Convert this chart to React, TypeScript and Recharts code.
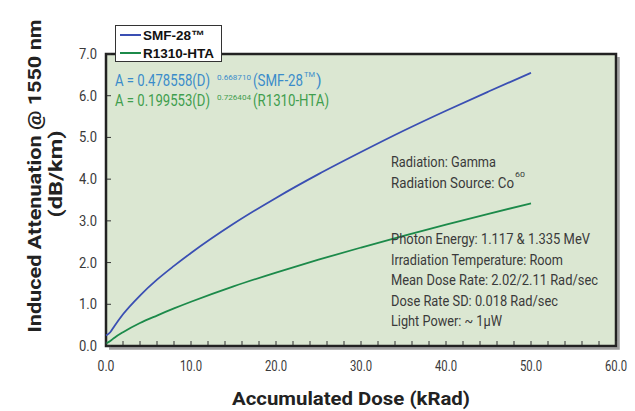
import React from "react"
import { LineChart, Line, XAxis, YAxis, Legend, ReferenceArea, CartesianGrid } from "recharts"

// accumulated dose (kRad)
const doses = [0, 0.5, 1, 2, 4, 6, 8, 10, 15, 20, 25, 30, 35, 40, 45, 50]
// induced attenuation @ 1550 nm (dB/km)
const smf28 = [0.25, 0.33, 0.48, 0.76, 1.21, 1.59, 1.92, 2.23, 2.93, 3.55, 4.12, 4.65, 5.16, 5.64, 6.1, 6.55]
const r1310 = [0.06, 0.12, 0.2, 0.33, 0.55, 0.73, 0.9, 1.06, 1.43, 1.76, 2.07, 2.36, 2.64, 2.91, 3.17, 3.42]

const xTicks = [0, 2, 4, 6, 8, 10, 12, 14, 16, 18, 20, 22, 24, 26, 28, 30, 32, 34, 36, 38, 40, 42, 44, 46, 48, 50, 52, 54, 56, 58, 60]
const yTicks = [0, 1, 2, 3, 4, 5, 6, 7]

const notes = [
  { text: "Radiation: Gamma", y: 167, w: 105 },
  { text: "Radiation Source: Co", y: 188, w: 123 },
  { text: "Photon Energy: 1.117 & 1.335 MeV", y: 244, w: 199 },
  { text: "Irradiation Temperature: Room", y: 265, w: 172 },
  { text: "Mean Dose Rate: 2.02/2.11 Rad/sec", y: 285, w: 207 },
  { text: "Dose Rate SD: 0.018 Rad/sec", y: 306, w: 167 },
  { text: "Light Power: ~ 1\u00b5W", y: 326, w: 111 },
]

const data = doses.map((d, i) => ({ dose: d, smf: smf28[i], hta: r1310[i] }))

const FONT = "Roboto, 'Liberation Sans', Arial, sans-serif"
const BLUE = "#3a4fb3"
const GREEN = "#1c8a4a"

const XTick = (props: any) => {
  const { x, y, payload } = props
  const v = payload.value
  const label = v.toFixed(1)
  return (
    <g>
      <line x1={x} x2={x} y1={y - 1} y2={y - 5} stroke="#333" strokeWidth={1} />
      {v % 10 === 0 && (
        <text x={x} y={y + 25} textAnchor="middle" fontFamily={FONT} fontSize={15} fill="#3a3a3a"
          textLength={label.length > 3 ? 22 : 17} lengthAdjust="spacingAndGlyphs">
          {label}
        </text>
      )}
    </g>
  )
}

const YTick = (props: any) => {
  const { x, y, payload } = props
  return (
    <g>
      <line x1={x + 1} x2={x + 5} y1={y} y2={y} stroke="#333" strokeWidth={1} />
      <text x={x - 9} y={y + 5} textAnchor="end" fontFamily={FONT} fontSize={15} fill="#3a3a3a"
        textLength={18} lengthAdjust="spacingAndGlyphs">
        {payload.value.toFixed(1)}
      </text>
    </g>
  )
}

// plot border with a grey drop shadow on the right and bottom
const Frame = (props: any) => {
  const { x, y, width, height } = props
  return (
    <g>
      <path d={`M${x + width + 2.5},${y + 3} V${y + height + 2.5} H${x + 3}`} fill="none" stroke="#a0a0a0" strokeWidth={2.5} />
      <rect x={x} y={y} width={width} height={height} fill="none" stroke="#222" strokeWidth={2.5} />
    </g>
  )
}

const LegendBox = () => (
  <div
    style={{
      width: 105,
      height: 35,
      background: "#fff",
      border: "1px solid #333",
      fontFamily: "'Liberation Sans', Arial, sans-serif",
      fontWeight: "bold",
      fontSize: 13.5,
      color: "#111",
    }}
  >
    {[
      { name: "SMF-28\u2122", color: BLUE },
      { name: "R1310-HTA", color: GREEN },
    ].map((s) => (
      <div key={s.name} style={{ display: "flex", alignItems: "center", height: 18, marginLeft: 4 }}>
        <div style={{ width: 21, height: 2, background: s.color, marginRight: 2 }} />
        <span>{s.name}</span>
      </div>
    ))}
  </div>
)

export default function App() {
  return (
    <div style={{ position: "absolute", left: 0, top: 0, width: 635, height: 411, background: "#fff" }}>
      <LineChart width={635} height={411} data={data} margin={{ top: 17, right: 19, left: 0, bottom: 0 }}>
        <CartesianGrid horizontal={false} vertical={false} fill="#dbe7d2" fillOpacity={1} stroke="none" />
        <XAxis
          dataKey="dose"
          type="number"
          domain={[0, 60]}
          ticks={xTicks}
          interval={0}
          height={65}
          axisLine={false}
          tickLine={false}
          tickSize={0}
          tickMargin={0}
          tick={<XTick />}
        />
        <YAxis
          type="number"
          domain={[0, 7]}
          ticks={yTicks}
          interval={0}
          width={106}
          axisLine={false}
          tickLine={false}
          tickSize={0}
          tickMargin={0}
          tick={<YTick />}
        />
        <ReferenceArea x1={0} x2={60} y1={0} y2={7} shape={<Frame />} />
        <Legend
          verticalAlign="top"
          align="left"
          content={<LegendBox />}
          wrapperStyle={{ left: 115, top: 25, width: 107 }}
        />
        <Line dataKey="smf" name="SMF-28™" type="monotone" stroke={BLUE} strokeWidth={1.8} dot={false} isAnimationActive={false} />
        <Line dataKey="hta" name="R1310-HTA" type="monotone" stroke={GREEN} strokeWidth={1.8} dot={false} isAnimationActive={false} />
      </LineChart>

      <svg width={635} height={411} style={{ position: "absolute", left: 0, top: 0, pointerEvents: "none" }}>
        {/* fitted equations */}
        <g fontFamily={FONT} fill="#3a8cca">
          <text x={115} y={86} fontSize={16} textLength={95} lengthAdjust="spacingAndGlyphs">A = 0.478558(D)</text>
          <text x={217} y={80} fontSize={8} textLength={34} lengthAdjust="spacingAndGlyphs">0.668710</text>
          <text x={253} y={86} fontSize={16} textLength={50} lengthAdjust="spacingAndGlyphs">(SMF-28</text>
          <text x={304} y={77} fontSize={8} textLength={11} lengthAdjust="spacingAndGlyphs">TM</text>
          <text x={316} y={86} fontSize={16}>)</text>
        </g>
        <g fontFamily={FONT} fill="#3f9e4e">
          <text x={115} y={106} fontSize={16} textLength={95} lengthAdjust="spacingAndGlyphs">A = 0.199553(D)</text>
          <text x={217} y={100} fontSize={8} textLength={34} lengthAdjust="spacingAndGlyphs">0.726404</text>
          <text x={253} y={106} fontSize={16} textLength={76} lengthAdjust="spacingAndGlyphs">(R1310-HTA)</text>
        </g>

        {/* test conditions */}
        <g fontFamily={FONT} fill="#3a3a3a" fontSize={15}>
          {notes.map((n) => (
            <text key={n.text} x={391} y={n.y} textLength={n.w} lengthAdjust="spacingAndGlyphs">
              {n.text}
            </text>
          ))}
          <text x={515} y={177} fontSize={8} textLength={10} lengthAdjust="spacingAndGlyphs">60</text>
        </g>

        {/* axis titles */}
        <g fontFamily={FONT} fontWeight="bold" fill="#222">
          <text x={351} y={405} fontSize={18} textAnchor="middle" textLength={238} lengthAdjust="spacingAndGlyphs">
            Accumulated Dose (kRad)
          </text>
          <text transform="translate(41,176) rotate(-90)" fontSize={18} textAnchor="middle" textLength={313} lengthAdjust="spacingAndGlyphs">
            Induced Attenuation @ 1550 nm
          </text>
          <text transform="translate(62,174) rotate(-90)" fontSize={18} textAnchor="middle" textLength={87} lengthAdjust="spacingAndGlyphs">
            (dB/km)
          </text>
        </g>
      </svg>
    </div>
  )
}
